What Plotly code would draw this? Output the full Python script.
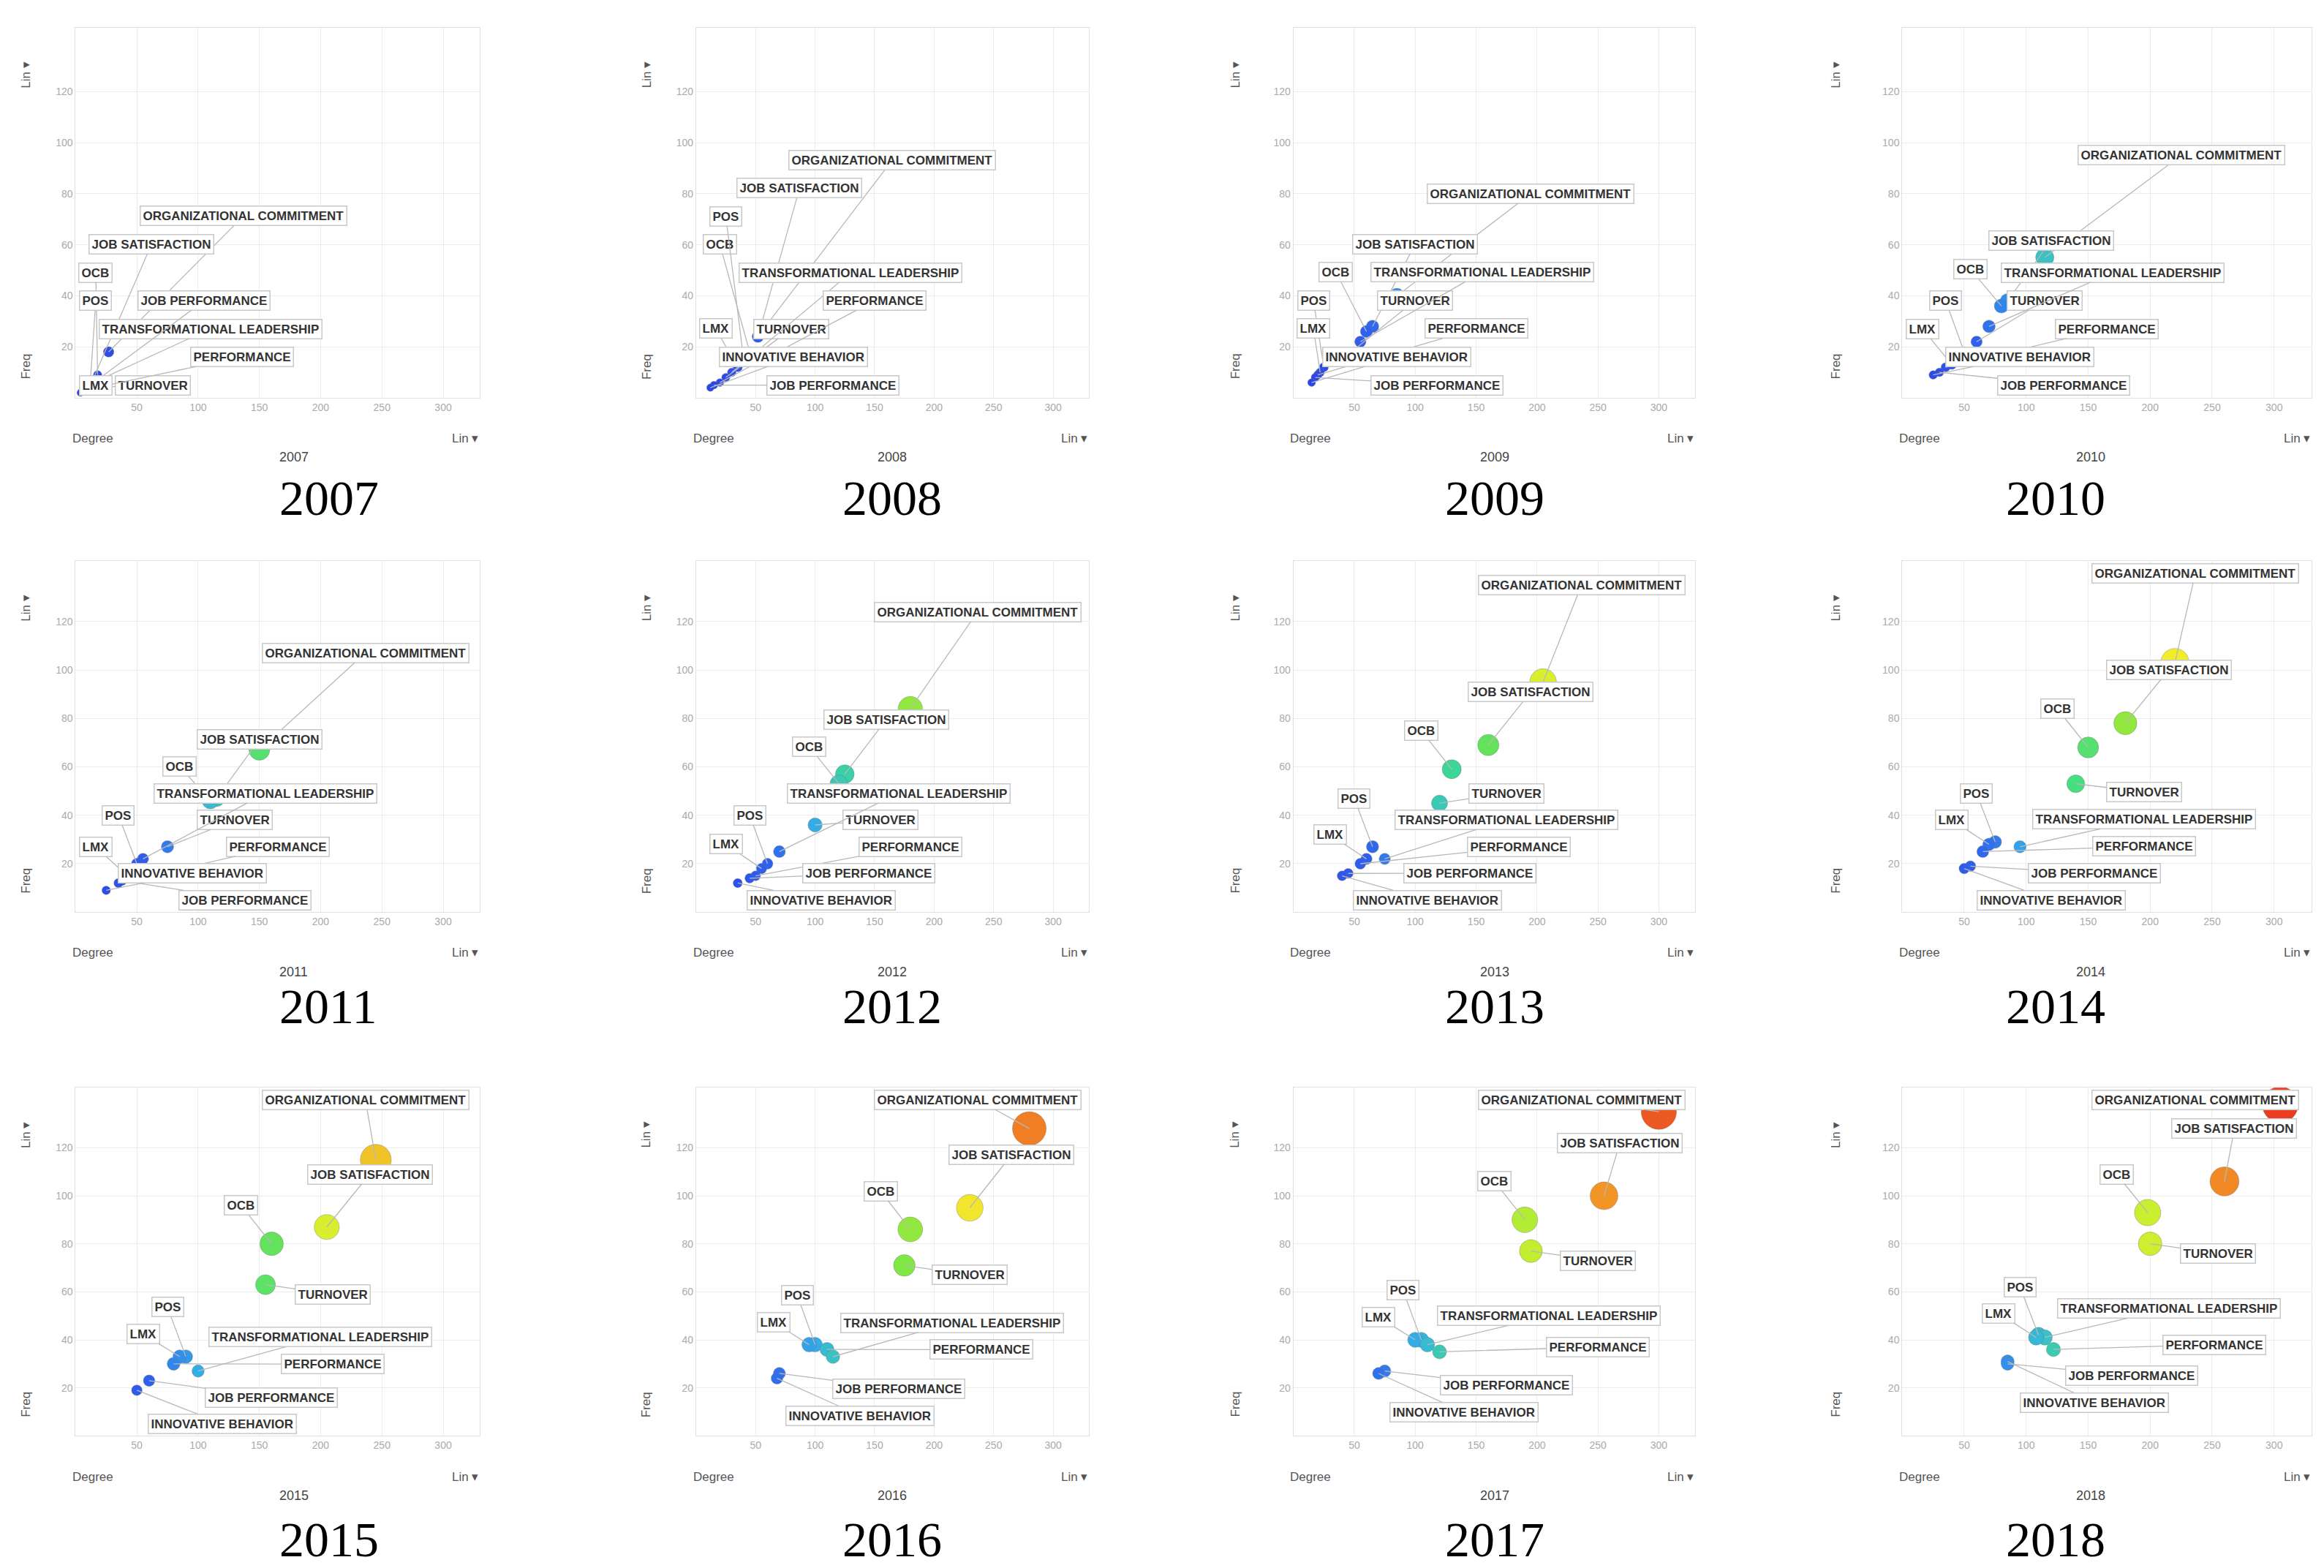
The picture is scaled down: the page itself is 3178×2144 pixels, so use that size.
import plotly.graph_objects as go

years = [2007, 2008, 2009, 2010, 2011, 2012, 2013, 2014, 2015, 2016, 2017, 2018]
concepts = ["ORGANIZATIONAL COMMITMENT", "JOB SATISFACTION", "OCB", "TURNOVER",
            "TRANSFORMATIONAL LEADERSHIP", "PERFORMANCE", "JOB PERFORMANCE", "POS", "LMX",
            "INNOVATIVE BEHAVIOR"]
# degree (x) per year, order as concepts
degree = {
    2007: [27, 14, 18, 8, 10, 6, 5, 12, 4, None],
    2008: [55, 52, 45, 25, 30, 20, 15, 40, 35, 12],
    2009: [85, 65, 60, 45, 55, 20, 18, 25, 22, 15],
    2010: [115, 85, 80, 60, 70, 35, 30, 50, 40, 25],
    2011: [150, 115, 110, 75, 55, 35, 38, 50, 42, 25],
    2012: [180, 125, 120, 100, 70, 50, 45, 60, 55, 35],
    2013: [205, 160, 130, 120, 75, 55, 45, 65, 60, 40],
    2014: [220, 180, 150, 140, 95, 65, 55, 75, 70, 50],
    2015: [245, 205, 160, 155, 100, 80, 60, 90, 85, 50],
    2016: [280, 230, 180, 175, 115, 110, 70, 100, 95, 68],
    2017: [300, 255, 190, 195, 110, 120, 75, 105, 100, 70],
    2018: [305, 260, 198, 200, 115, 122, 85, 110, 108, 85],
}
freq = {
    2007: [18, 7, 9, 4, 5, 3, 2.5, 6, 2, None],
    2008: [26, 24, 18, 8, 10, 6, 5, 15, 12, 4],
    2009: [40, 28, 26, 17, 22, 9, 8, 12, 10, 6],
    2010: [55, 38, 36, 22, 28, 12, 10, 18, 13, 9],
    2011: [67, 47, 46, 27, 22, 12, 13, 20, 15, 9],
    2012: [84, 57, 53, 36, 25, 15, 14, 20, 18, 12],
    2013: [95, 69, 59, 45, 22, 20, 16, 27, 22, 15],
    2014: [103, 78, 68, 53, 27, 25, 19, 29, 28, 18],
    2015: [115, 87, 80, 63, 27, 30, 23, 33, 33, 19],
    2016: [128, 95, 86, 71, 33, 36, 26, 38, 38, 24],
    2017: [135, 100, 90, 77, 38, 35, 27, 40, 40, 26],
    2018: [138, 106, 93, 80, 41, 36, 30, 42, 41, 31],
}
x_ticks = [50, 100, 150, 200, 250, 300]
y_ticks = [20, 40, 60, 80, 100, 120]

offsets = {0: (110, 40), 1: (35, 22), 2: (-25, 16), 3: (55, -4), 4: (100, 12),
           5: (130, 2), 6: (100, -8), 7: (-15, 20), 8: (-30, 10), 9: (70, -14)}

colorscale = [[0, "#2b3ce6"], [0.2, "#2f62f0"], [0.33, "#34b0e8"], [0.43, "#3ddc8e"],
              [0.55, "#72e648"], [0.63, "#c4ee30"], [0.7, "#f2ef2c"], [0.77, "#f0e02a"],
              [0.83, "#f08a26"], [0.95, "#ee7722"], [1.0, "#e82222"]]

colx = [(0.03, 0.204), (0.297, 0.466), (0.554, 0.727), (0.816, 0.992)]
rowy = [(0.75, 0.986), (0.422, 0.646), (0.088, 0.31)]
capy = [0.686, 0.362, 0.022]

CHAR_U = 7.0   # label char width in x data units (approx.)
LINE_U = 10.0  # label height in y data units (approx.)

fig = go.Figure()
anns = []
for i, yr in enumerate(years):
    r, c = divmod(i, 4)
    n = i + 1
    xa = "x" if n == 1 else f"x{n}"
    ya = "y" if n == 1 else f"y{n}"
    xs, ys, labs = [], [], []
    for k, name in enumerate(concepts):
        if degree[yr][k] is None:
            continue
        xs.append(degree[yr][k]); ys.append(freq[yr][k]); labs.append((k, name))
    order = sorted(range(len(xs)), key=lambda j: -ys[j])
    fig.add_trace(go.Scatter(
        x=[xs[j] for j in order], y=[ys[j] for j in order], mode="markers", xaxis=xa, yaxis=ya,
        marker=dict(size=[9 + 0.29 * ys[j] for j in order], color=[xs[j] for j in order],
                    colorscale=colorscale, cmin=0, cmax=310, opacity=1,
                    line=dict(width=1, color="rgba(120,120,120,0.4)")),
        showlegend=False, hoverinfo="skip"))
    L = []
    for j, (k, name) in enumerate(labs):
        dx, dy = offsets[k]
        w = len(name) * CHAR_U + 8
        lx = min(max(xs[j] + dx, w / 2 + 2), 328 - w / 2)
        ly = min(max(ys[j] + dy, 5), 140)
        L.append([lx, ly, w, j, name])
    for _ in range(200):
        moved = False
        for a in range(len(L)):
            for b in range(a + 1, len(L)):
                A, B = L[a], L[b]
                if abs(A[0] - B[0]) < (A[2] + B[2]) / 2 and abs(A[1] - B[1]) < LINE_U + 1:
                    push = (LINE_U + 1 - abs(A[1] - B[1])) / 2 + 0.1
                    if A[1] >= B[1]:
                        A[1] += push; B[1] -= push
                    else:
                        A[1] -= push; B[1] += push
                    moved = True
        for l in L:
            l[1] = min(max(l[1], 5), 140)
        if not moved:
            break
    for lx, ly, w, j, name in L:
        anns.append(dict(x=xs[j], y=ys[j], ax=lx, ay=ly, xref=xa, yref=ya, axref=xa, ayref=ya,
                         text=f"<b>{name}</b>", showarrow=True, arrowhead=0, arrowwidth=1.3,
                         arrowcolor="#b8b8b8", bgcolor="white", bordercolor="#c8c8c8",
                         borderwidth=1.5, borderpad=3,
                         font=dict(family="Liberation Sans", size=17, color="#333")))
    axk = "xaxis" if n == 1 else f"xaxis{n}"
    ayk = "yaxis" if n == 1 else f"yaxis{n}"
    fig.layout[axk] = dict(domain=colx[c], anchor=ya, range=[0, 330], tickvals=x_ticks,
                           showgrid=True, gridcolor="#ececec", zeroline=False,
                           showline=True, linecolor="#e0e0e0", mirror=True,
                           tickfont=dict(size=14, color="#aaa"))
    fig.layout[ayk] = dict(domain=rowy[r], anchor=xa, range=[0, 145], tickvals=y_ticks,
                           showgrid=True, gridcolor="#ececec", zeroline=False,
                           showline=True, linecolor="#e0e0e0", mirror=True,
                           tickfont=dict(size=14, color="#aaa"))
    x0, x1 = colx[c]; y0, y1 = rowy[r]
    anns.append(dict(x=(x0 + x1) / 2, y=capy[r], xref="paper", yref="paper", text=str(yr),
                     yanchor="middle", showarrow=False,
                     font=dict(family="Liberation Serif", size=68, color="black")))
    anns.append(dict(x=x0 - 0.002, y=y0 - 0.026, xref="paper", yref="paper", xanchor="left",
                     yanchor="middle", text="Degree", showarrow=False, font=dict(size=17, color="#555")))
    anns.append(dict(x=x1, y=y0 - 0.026, xref="paper", yref="paper", xanchor="right",
                     yanchor="middle", text="Lin ▾", showarrow=False, font=dict(size=17, color="#555")))
    anns.append(dict(x=(x0 + x1) / 2, y=y0 - 0.038, xref="paper", yref="paper", yanchor="middle",
                     text=str(yr), showarrow=False, font=dict(size=18, color="#444")))
    anns.append(dict(x=x0 - 0.025, y=y0 + 0.02, xref="paper", yref="paper", textangle=-90,
                     yanchor="middle", text="Freq", showarrow=False, font=dict(size=17, color="#555")))
    anns.append(dict(x=x0 - 0.025, y=y1 - 0.03, xref="paper", yref="paper", textangle=-90,
                     yanchor="middle", text="Lin ▾", showarrow=False, font=dict(size=17, color="#555")))

fig.update_layout(width=3178, height=2144, margin=dict(l=0, r=0, t=0, b=0),
                  paper_bgcolor="white", plot_bgcolor="white", annotations=anns,
                  font=dict(family="Liberation Sans"))
fig.write_html("out.html")
